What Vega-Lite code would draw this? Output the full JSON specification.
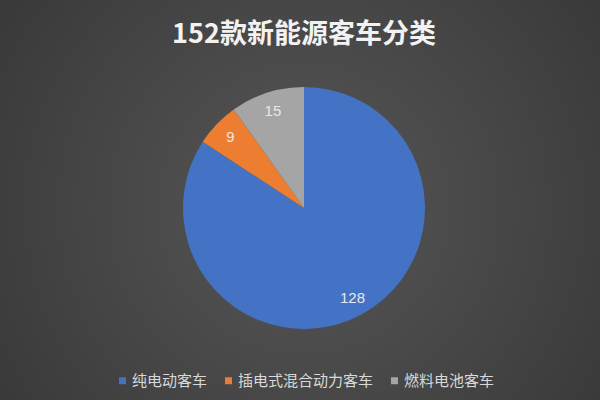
{
  "$schema": "https://vega.github.io/schema/vega-lite/v6.json",
  "autosize": {"type": "none"},
  "padding": 0,
  "width": 608,
  "height": 416,
  "background": "#3a3a3a",
  "view": {
    "stroke": null,
    "fill": {
      "gradient": "radial",
      "x1": 0.5, "y1": 0.5, "r1": 0,
      "x2": 0.5, "y2": 0.5, "r2": 0.7,
      "stops": [
        {"offset": 0, "color": "#575757"},
        {"offset": 1, "color": "#343434"}
      ]
    }
  },
  "title": {
    "text": "152款新能源客车分类",
    "fontSize": 27,
    "fontWeight": "bold",
    "color": "#f2f2f2",
    "font": "Noto Sans CJK SC",
    "anchor": "middle",
    "frame": "group",
    "orient": "top",
    "baseline": "alphabetic",
    "offset": 0,
    "dy": 70
  },
  "data": {
    "values": [
      {"category": "纯电动客车", "count": 128, "order": 1},
      {"category": "插电式混合动力客车", "count": 9, "order": 2},
      {"category": "燃料电池客车", "count": 15, "order": 3}
    ]
  },
  "encoding": {
    "theta": {"field": "count", "type": "quantitative", "stack": true},
    "order": {"field": "order", "type": "quantitative"}
  },
  "layer": [
    {
      "mark": {"type": "arc", "outerRadius": 121, "stroke": null},
      "encoding": {
        "color": {
          "field": "category",
          "type": "nominal",
          "scale": {
            "domain": ["纯电动客车", "插电式混合动力客车", "燃料电池客车"],
            "range": ["#4472C4", "#ED7D31", "#A5A5A5"]
          },
          "legend": {
            "title": null,
            "orient": "none",
            "legendX": 115,
            "legendY": 373,
            "direction": "horizontal",
            "symbolType": "square",
            "symbolSize": 49,
            "symbolStrokeWidth": 0,
            "labelColor": "#d9d9d9",
            "labelFontSize": 15,
            "labelFont": "Noto Sans CJK SC",
            "columnPadding": 13,
            "labelOffset": 2
          }
        }
      }
    },
    {
      "mark": {"type": "text", "radius": 102, "fontSize": 15, "color": "#e8e8e8", "font": "Liberation Sans"},
      "encoding": {
        "text": {"field": "count", "type": "quantitative"}
      }
    }
  ]
}
